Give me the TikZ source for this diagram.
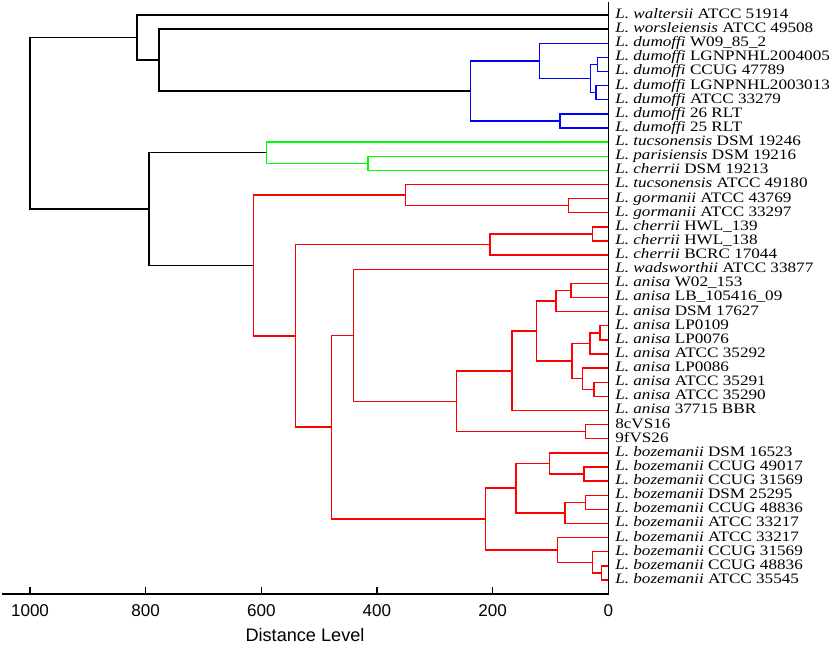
\documentclass[tikz,border=0pt]{standalone}
\usepackage{graphicx}
\usepackage{fontspec}
\setmainfont{Liberation Serif}
\newfontfamily\axfont{Liberation Sans}
\definecolor{cblue}{RGB}{0,0,255}
\definecolor{cgreen}{RGB}{0,255,0}
\definecolor{cred}{RGB}{255,0,0}
\begin{document}
\begin{tikzpicture}[x=0.75pt,y=-0.75pt,
  blk/.style={draw=black,line width=1.15pt},
  blu/.style={draw=cblue,line width=1.1pt},
  grn/.style={draw=cgreen,line width=1.1pt},
  rd/.style={draw=cred,line width=1.1pt},
  axisline/.style={draw=black,line width=1.15pt},
  lbl/.style={anchor=base west,inner sep=0pt,font=\fontsize{10.8}{12}\selectfont},
  tklbl/.style={anchor=base,inner sep=0pt,font=\axfont\fontsize{12.8}{15}\selectfont},
  ttl/.style={anchor=base,inner sep=0pt,font=\axfont\fontsize{13.6}{16}\selectfont}]
\useasboundingbox (0,0) rectangle (829,644);
% leaves
\foreach \i in {1,...,41}{
  \coordinate (l\i) at (608.3,{15+14.125*(\i-1)});
}
% internal nodes
\coordinate (root) at (30,123.3);
\coordinate (n1) at (137,37.51);
\coordinate (n2) at (159,60.02);
\coordinate (dum) at (470.7,90.92);
\coordinate (d3x) at (539.3,60.91);
\coordinate (d4567) at (590.7,78.56);
\coordinate (d45) at (597.3,64.44);
\coordinate (d67) at (596,92.69);
\coordinate (d89) at (560,120.94);
\coordinate (gr) at (149,209.1);
\coordinate (green) at (266.3,152.72);
\coordinate (g1112) at (368,163.31);
\coordinate (red) at (253.3,265.47);
\coordinate (r13) at (405.7,195.09);
\coordinate (r1415) at (568.3,205.69);
\coordinate (cw) at (295.3,335.85);
\coordinate (cher) at (490,244.53);
\coordinate (c1617) at (592.7,233.94);
\coordinate (wb) at (331.7,427.16);
\coordinate (w19) at (353.3,335.24);
\coordinate (av) at (456.7,401.23);
\coordinate (a29) at (512,370.78);
\coordinate (a20x28) at (536.7,331.05);
\coordinate (a22) at (556,301.03);
\coordinate (a2021) at (571,290.44);
\coordinate (a23x28) at (572,361.06);
\coordinate (a25) at (590,343.41);
\coordinate (a2324) at (600,332.81);
\coordinate (a26) at (582.7,378.72);
\coordinate (a2728) at (594,389.31);
\coordinate (v3031) at (585.7,431.69);
\coordinate (boz) at (485.3,519.09);
\coordinate (b32x37) at (516,488.19);
\coordinate (b32) at (549.3,463.47);
\coordinate (b3334) at (584,474.06);
\coordinate (b37) at (565,512.91);
\coordinate (b3536) at (585.7,502.31);
\coordinate (b38) at (557.7,549.98);
\coordinate (b39) at (592.7,562.34);
\coordinate (b4041) at (601.7,572.94);
% black edges
\draw[blk] (root) |- (n1);
\draw[blk] (root) |- (gr);
\draw[blk] (n1) |- (l1);
\draw[blk] (n1) |- (n2);
\draw[blk] (n2) |- (l2);
\draw[blk] (n2) |- (dum);
\draw[blk] (gr) |- (green);
\draw[blk] (gr) |- (red);
% blue
\draw[blu] (dum) |- (d3x);
\draw[blu] (dum) |- (d89);
\draw[blu] (d3x) |- (l3);
\draw[blu] (d3x) |- (d4567);
\draw[blu] (d4567) |- (d45);
\draw[blu] (d4567) |- (d67);
\draw[blu] (d45) |- (l4);
\draw[blu] (d45) |- (l5);
\draw[blu] (d67) |- (l6);
\draw[blu] (d67) |- (l7);
\draw[blu] (d89) |- (l8);
\draw[blu] (d89) |- (l9);
% green
\draw[grn] (green) |- (l10);
\draw[grn] (green) |- (g1112);
\draw[grn] (g1112) |- (l11);
\draw[grn] (g1112) |- (l12);
% red
\draw[rd] (red) |- (r13);
\draw[rd] (red) |- (cw);
\draw[rd] (r13) |- (l13);
\draw[rd] (r13) |- (r1415);
\draw[rd] (r1415) |- (l14);
\draw[rd] (r1415) |- (l15);
\draw[rd] (cw) |- (cher);
\draw[rd] (cw) |- (wb);
\draw[rd] (cher) |- (c1617);
\draw[rd] (cher) |- (l18);
\draw[rd] (c1617) |- (l16);
\draw[rd] (c1617) |- (l17);
\draw[rd] (wb) |- (w19);
\draw[rd] (wb) |- (boz);
\draw[rd] (w19) |- (l19);
\draw[rd] (w19) |- (av);
\draw[rd] (av) |- (a29);
\draw[rd] (av) |- (v3031);
\draw[rd] (v3031) |- (l30);
\draw[rd] (v3031) |- (l31);
\draw[rd] (a29) |- (a20x28);
\draw[rd] (a29) |- (l29);
\draw[rd] (a20x28) |- (a22);
\draw[rd] (a20x28) |- (a23x28);
\draw[rd] (a22) |- (a2021);
\draw[rd] (a22) |- (l22);
\draw[rd] (a2021) |- (l20);
\draw[rd] (a2021) |- (l21);
\draw[rd] (a23x28) |- (a25);
\draw[rd] (a23x28) |- (a26);
\draw[rd] (a25) |- (a2324);
\draw[rd] (a25) |- (l25);
\draw[rd] (a2324) |- (l23);
\draw[rd] (a2324) |- (l24);
\draw[rd] (a26) |- (l26);
\draw[rd] (a26) |- (a2728);
\draw[rd] (a2728) |- (l27);
\draw[rd] (a2728) |- (l28);
\draw[rd] (boz) |- (b32x37);
\draw[rd] (boz) |- (b38);
\draw[rd] (b32x37) |- (b32);
\draw[rd] (b32x37) |- (b37);
\draw[rd] (b32) |- (l32);
\draw[rd] (b32) |- (b3334);
\draw[rd] (b3334) |- (l33);
\draw[rd] (b3334) |- (l34);
\draw[rd] (b37) |- (b3536);
\draw[rd] (b37) |- (l37);
\draw[rd] (b3536) |- (l35);
\draw[rd] (b3536) |- (l36);
\draw[rd] (b38) |- (l38);
\draw[rd] (b38) |- (b39);
\draw[rd] (b39) |- (l39);
\draw[rd] (b39) |- (b4041);
\draw[rd] (b4041) |- (l40);
\draw[rd] (b4041) |- (l41);
% axes
\coordinate (axL) at (2,594);
\coordinate (axO) at (608.3,594);
\coordinate (axT) at (608.3,2);
\draw[axisline] (axL) -- (axO) -- (axT);
\foreach \d in {0,200,400,600,800,1000}{
  \coordinate (tk\d) at ({608.3-0.5783*\d},594);
  \draw[axisline] (tk\d) -- ++(0,-7);
  \node[tklbl] (tl\d) at ({608.3-0.5783*\d},616.7) {\d};
}
\node[ttl] (title) at (305,641) {Distance Level};
% labels
\newcommand{\lab}[3]{\node[lbl] (t#1) at (615,{15+14.125*(#1-1)+3.4}) {\scalebox{1.19}[1]{#2#3}};}
\lab{1}{\textit{L. waltersii}}{ ATCC 51914}
\lab{2}{\textit{L. worsleiensis}}{ ATCC 49508}
\lab{3}{\textit{L. dumoffi}}{ W09\_85\_2}
\lab{4}{\textit{L. dumoffi}}{ LGNPNHL2004005}
\lab{5}{\textit{L. dumoffi}}{ CCUG 47789}
\lab{6}{\textit{L. dumoffi}}{ LGNPNHL2003013}
\lab{7}{\textit{L. dumoffi}}{ ATCC 33279}
\lab{8}{\textit{L. dumoffi}}{ 26 RLT}
\lab{9}{\textit{L. dumoffi}}{ 25 RLT}
\lab{10}{\textit{L. tucsonensis}}{ DSM 19246}
\lab{11}{\textit{L. parisiensis}}{ DSM 19216}
\lab{12}{\textit{L. cherrii}}{ DSM 19213}
\lab{13}{\textit{L. tucsonensis}}{ ATCC 49180}
\lab{14}{\textit{L. gormanii}}{ ATCC 43769}
\lab{15}{\textit{L. gormanii}}{ ATCC 33297}
\lab{16}{\textit{L. cherrii}}{ HWL\_139}
\lab{17}{\textit{L. cherrii}}{ HWL\_138}
\lab{18}{\textit{L. cherrii}}{ BCRC 17044}
\lab{19}{\textit{L. wadsworthii}}{ ATCC 33877}
\lab{20}{\textit{L. anisa}}{ W02\_153}
\lab{21}{\textit{L. anisa}}{ LB\_105416\_09}
\lab{22}{\textit{L. anisa}}{ DSM 17627}
\lab{23}{\textit{L. anisa}}{ LP0109}
\lab{24}{\textit{L. anisa}}{ LP0076}
\lab{25}{\textit{L. anisa}}{ ATCC 35292}
\lab{26}{\textit{L. anisa}}{ LP0086}
\lab{27}{\textit{L. anisa}}{ ATCC 35291}
\lab{28}{\textit{L. anisa}}{ ATCC 35290}
\lab{29}{\textit{L. anisa}}{ 37715 BBR}
\lab{30}{}{8cVS16}
\lab{31}{}{9fVS26}
\lab{32}{\textit{L. bozemanii}}{ DSM 16523}
\lab{33}{\textit{L. bozemanii}}{ CCUG 49017}
\lab{34}{\textit{L. bozemanii}}{ CCUG 31569}
\lab{35}{\textit{L. bozemanii}}{ DSM 25295}
\lab{36}{\textit{L. bozemanii}}{ CCUG 48836}
\lab{37}{\textit{L. bozemanii}}{ ATCC 33217}
\lab{38}{\textit{L. bozemanii}}{ ATCC 33217}
\lab{39}{\textit{L. bozemanii}}{ CCUG 31569}
\lab{40}{\textit{L. bozemanii}}{ CCUG 48836}
\lab{41}{\textit{L. bozemanii}}{ ATCC 35545}
\end{tikzpicture}
\end{document}
